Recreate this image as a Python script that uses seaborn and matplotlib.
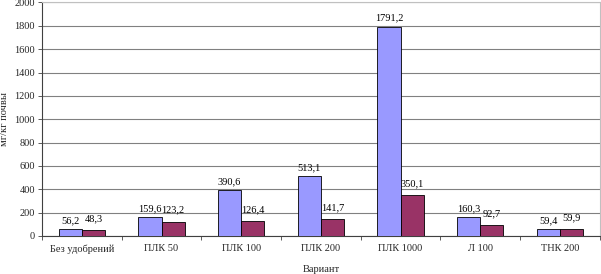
import seaborn as sns
import matplotlib.pyplot as plt
import numpy as np
import pandas as pd

# Values
variants = ['Без удобрений', 'ПЛК 50', 'ПЛК 100', 'ПЛК 200', 'ПЛК 1000', 'Л 100', 'ТНК 200']
series_a = [56.2, 159.6, 390.6, 513.1, 1791.2, 160.3, 59.4]
series_b = [48.3, 123.2, 126.4, 141.7, 350.1, 92.7, 59.9]
series_names = ['Ряд 1', 'Ряд 2']
colors = ['#9999FF', '#993366']

df = pd.DataFrame({
    'Вариант': variants * 2,
    'value': series_a + series_b,
    'series': [series_names[0]] * len(variants) + [series_names[1]] * len(variants),
})

sns.set_theme(style='white')
plt.rcParams['font.family'] = ['Liberation Serif', 'DejaVu Serif']

fig = plt.figure(figsize=(6.01, 2.74), dpi=100)
ax = fig.add_axes([0.0699, 0.139, 0.998 - 0.0699, 0.991 - 0.139])

sns.barplot(data=df, x='Вариант', y='value', hue='series', palette=colors,
            saturation=1, width=0.58, gap=0, edgecolor='black', linewidth=0.6,
            legend=False, ax=ax, zorder=3)

# labels of the second series sit a bit higher in the original
for cont, pad in zip(ax.containers, [3, 5]):
    ax.bar_label(cont, labels=[f'{v:.1f}'.replace('.', ',') for v in cont.datavalues],
                 padding=pad, fontsize=7.5, color='black')

ax.set_ylim(0, 2000)
ax.set_xlim(-0.5, len(variants) - 0.5)
ax.set_yticks(np.arange(0, 2001, 200))
ax.yaxis.grid(True, color='#808080', linewidth=0.8, zorder=0)
ax.set_axisbelow(True)

ax.tick_params(axis='y', labelsize=7.5, length=3, width=0.6, color='#404040', pad=2, left=True)
ax.tick_params(axis='x', labelsize=7.5, length=0, pad=6)
ax.set_xticks(np.arange(-0.5, len(variants), 1), minor=True)
ax.tick_params(axis='x', which='minor', length=3, width=0.6, color='#404040', bottom=True)

for side in ['left', 'bottom']:
    ax.spines[side].set_color('#404040')
    ax.spines[side].set_linewidth(0.8)
for side in ['top', 'right']:
    ax.spines[side].set_color('#c0c0c0')
    ax.spines[side].set_linewidth(0.8)

ax.set_xlabel('Вариант', fontsize=7.5, labelpad=8)
ax.set_ylabel('мг/кг почвы', fontsize=7.5, labelpad=4)

fig.savefig('out.png', dpi=100, facecolor='white')
